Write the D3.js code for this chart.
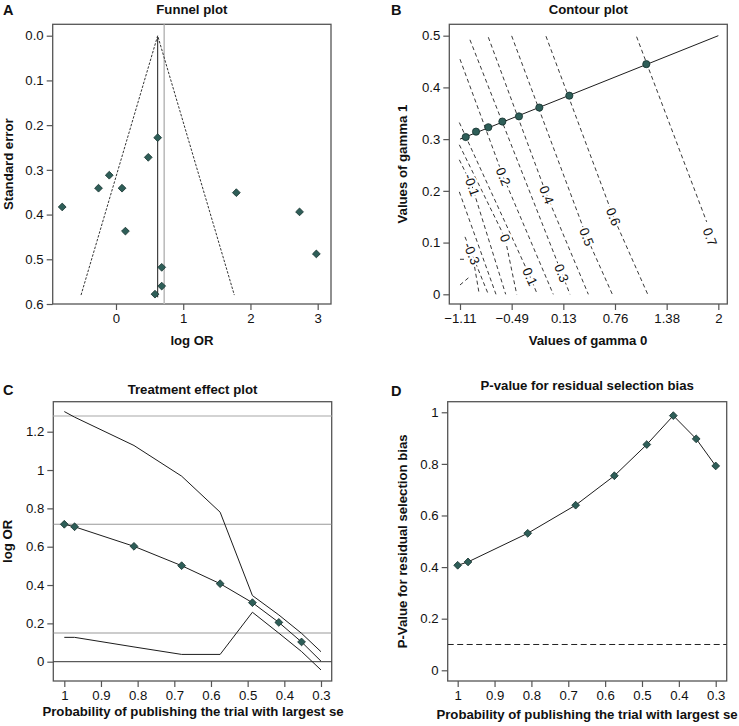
<!DOCTYPE html>
<html><head><meta charset="utf-8">
<script src="https://cdn.jsdelivr.net/npm/d3@7"></script>
<style>
body{margin:0;background:#fff}
svg text{font-family:"Liberation Sans",Arial,Helvetica,sans-serif;fill:#111}
</style></head><body>
<svg id="c" width="739" height="726"></svg>
<script>
// ---------- Data ----------
// Panel A: funnel plot
const funnelLogOR = [-0.80,-0.26,-0.10,0.09,0.14,0.48,0.62,1.79,2.73,2.98,0.68,0.68,0.58];
const funnelSE    = [0.383,0.341,0.312,0.341,0.437,0.272,0.228,0.351,0.394,0.488,0.518,0.560,0.578];
const fixedEst = 0.62, randomEst = 0.717;
const funnelEdgeX = [-0.52, 0.62, 1.76];
const funnelEdgeY = [0.58, 0.0, 0.58];
const aXTicks = [0,1,2,3];
const aYTicks = [0,0.1,0.2,0.3,0.4,0.5,0.6];

// Panel B: contour plot
const gamma0Pts = [-1.041,-0.917,-0.769,-0.60,-0.40,-0.155,0.206,1.133];
const gamma1Pts = [0.304,0.3145,0.323,0.334,0.344,0.361,0.384,0.445];
const pathG0 = [-1.11, 2];
const pathG1 = [0.30, 0.50];
const contourLevels = [0.7,0.6,0.5,0.4,0.3,0.2,0.1,0,-0.1,-0.2,-0.3,-0.4,-0.5];
const contourG0 = [
  [1.016,1.860],
  [-0.075,0.736,1.150],
  [-0.488,0.415,0.724],
  [-0.769,-0.066,0.435],
  [-0.99,0.114,0.214],
  [-1.11,-0.589,0.013],
  [-1.118,-0.267,-0.179],
  [-1.118,-0.568,-0.427],
  [-1.118,-0.969,-0.56],
  [-1.118,-0.677],
  [-1.05,-0.969,-0.769],
  [-1.11,-0.95,-0.878],
  [-1.11,-1.0]
];
const contourG1 = [
  [0.498,0.140],
  [0.499,0.150,0.0],
  [0.4996,0.111,0.0],
  [0.497,0.192,0.0],
  [0.492,0.041,0.0],
  [0.4545,0.2275,0.0],
  [0.332,0.034,0.0],
  [0.289,0.109,0.0],
  [0.26,0.2114,0.0],
  [0.198,0.0],
  [0.111,0.079,0.0],
  [0.0677,0.0677,0.0],
  [0.018,0.033]
];
const contourLabelText = ["0.7","0.6","0.5","0.4","0.3","0.2","0.1","0","-0.1",null,"-0.3",null,null];
const contourLabelG0 = [1.90,0.736,0.415,-0.066,0.114,-0.589,-0.267,-0.568,-0.969,null,-0.969,null,null];
const contourLabelG1 = [0.111,0.150,0.111,0.192,0.041,0.2275,0.034,0.109,0.2114,null,0.079,null,null];
const bXTicks = [-1.11,-0.488,0.134,0.756,1.378,2];
const bYTicks = [0,0.1,0.2,0.3,0.4,0.5];

// Panels C & D
const probPublish = [1.0,0.972,0.81,0.68,0.575,0.487,0.415,0.353,0.30];
const effectEst   = [0.717,0.704,0.602,0.501,0.407,0.308,0.205,0.103,0.003];
const effectUpper = [1.305,1.276,1.128,0.968,0.78,0.345,0.244,0.148,0.052];
const effectLower = [0.127,0.127,0.077,0.038,0.038,0.258,0.149,0.053,-0.043];
const refLinesC = [1.282,0.717,0.15];
const pResidual = [0.407,0.420,0.531,0.640,0.754,0.875,0.987,0.897,0.792];
const pThreshold = 0.1;
const probTicks = [1,0.9,0.8,0.7,0.6,0.5,0.4,0.3];
const cYTicks = [0,0.2,0.4,0.6,0.8,1,1.2];
const dYTicks = [0,0.2,0.4,0.6,0.8,1];

// ---------- Drawing ----------
const svg = d3.select("#c");
const FRAME = "#555", DARK = "#1c1c1c";
const PT_FILL = "#2e5e58", PT_STROKE = "#14302c";
const FS = 13.2;

function panel(o){
  const g = svg.append("g");
  const x = d3.scaleLinear().domain(o.xd).range([o.l,o.r]);
  const y = d3.scaleLinear().domain(o.yd).range([o.b,o.t]);
  g.append("rect").attr("x",o.l).attr("y",o.t).attr("width",o.r-o.l).attr("height",o.b-o.t)
   .attr("fill","none").attr("stroke",FRAME).attr("stroke-width",1.3);
  const xa = d3.axisBottom(x).tickValues(o.xt).tickFormat(o.xf).tickSize(6).tickPadding(3.5);
  const ya = d3.axisLeft(y).tickValues(o.yt).tickFormat(o.yf).tickSize(6).tickPadding(3);
  const gx = g.append("g").attr("transform",`translate(0,${o.b})`).call(xa);
  const gy = g.append("g").attr("transform",`translate(${o.l},0)`).call(ya);
  [gx,gy].forEach(a=>{
    a.select(".domain").remove();
    a.selectAll(".tick line").attr("stroke",FRAME).attr("stroke-width",1.2);
    a.selectAll("text").attr("font-size",FS).attr("fill","#111")
      .style("font-family",'"Liberation Sans",Arial,sans-serif');
  });
  g.append("text").attr("x",o.lx).attr("y",o.ly).attr("font-size",14.5).attr("font-weight","bold").text(o.letter);
  g.append("text").attr("x",(o.l+o.r)/2).attr("y",o.ty).attr("text-anchor","middle")
   .attr("font-size",FS).attr("font-weight","bold").text(o.title);
  g.append("text").attr("x",o.xlx).attr("y",o.xly).attr("text-anchor","middle")
   .attr("font-size",FS).attr("font-weight","bold").text(o.xlab);
  g.append("text").attr("transform",`translate(${o.ylx},${(o.t+o.b)/2}) rotate(-90)`).attr("text-anchor","middle")
   .attr("font-size",FS).attr("font-weight","bold").text(o.ylab);
  const clip = "clip"+o.letter;
  svg.append("clipPath").attr("id",clip).append("rect").attr("x",o.l).attr("y",o.t).attr("width",o.r-o.l).attr("height",o.b-o.t);
  const inner = g.append("g").attr("clip-path",`url(#${clip})`);
  return {g,inner,x,y};
}
function diamondPath(g,xs,ys,x,y){
  const s=3.9;
  g.selectAll(null).data(xs).enter().append("path")
   .attr("d",(d,i)=>{const cx=x(d),cy=y(ys[i]);return `M${cx},${cy-s}L${cx+s},${cy}L${cx},${cy+s}L${cx-s},${cy}Z`;})
   .attr("fill",PT_FILL).attr("stroke",PT_STROKE).attr("stroke-width",0.8);
}
const fmt1 = d=>d3.format(".1f")(d);
const fmtG = d=>String(+d.toFixed(2)).replace("-","\u2212");

// ----- Panel A -----
const A = panel({l:52.7,r:331,t:24.3,b:304,xd:[-0.9415,3.198],yd:[0.6,-0.0255],
  xt:aXTicks,yt:aYTicks,xf:d3.format("d"),yf:fmt1,letter:"A",lx:3,ly:15,title:"Funnel plot",ty:14,
  xlab:"log OR",xlx:192,xly:345,ylab:"Standard error",ylx:13});
A.inner.append("line").attr("x1",A.x(randomEst)).attr("x2",A.x(randomEst)).attr("y1",24.3).attr("y2",304)
  .attr("stroke","#bdbdbd").attr("stroke-width",1.6);
A.inner.append("line").attr("x1",A.x(fixedEst)).attr("x2",A.x(fixedEst)).attr("y1",A.y(0.003)).attr("y2",A.y(0.585))
  .attr("stroke",DARK).attr("stroke-width",1);
A.inner.append("path").datum(funnelEdgeX.map((v,i)=>[v,funnelEdgeY[i]]))
  .attr("d",d3.line().x(d=>A.x(d[0])).y(d=>A.y(d[1])))
  .attr("fill","none").attr("stroke","#333").attr("stroke-width",1).attr("stroke-dasharray","2.5,1.5");
diamondPath(A.inner,funnelLogOR,funnelSE,A.x,A.y);

// ----- Panel B -----
const B = panel({l:449.3,r:727.3,t:24.3,b:304,xd:[-1.2388,2.108],yd:[-0.01875,0.522],
  xt:bXTicks,yt:bYTicks,xf:fmtG,yf:d=>(d===0?"0":d3.format(".1f")(d)),letter:"B",lx:391,ly:15,title:"Contour plot",ty:14,
  xlab:"Values of gamma 0",xlx:588,xly:345,ylab:"Values of gamma 1",ylx:407});
const cl = d3.line().x(d=>B.x(d[0])).y(d=>B.y(d[1]));
contourLevels.forEach((lv,k)=>{
  const pts = contourG0[k].map((v,i)=>[v,contourG1[k][i]]);
  B.inner.append("path").datum(pts).attr("d",cl).attr("fill","none")
   .attr("stroke","#222").attr("stroke-width",0.9).attr("stroke-dasharray","4,3");
});
contourLevels.forEach((lv,k)=>{
  if(contourLabelText[k]===null) return;
  const p0 = contourG0[k], p1 = contourG1[k];
  const n=p0.length;
  const ang = Math.atan2(B.y(p1[n-1])-B.y(p1[0]), B.x(p0[n-1])-B.x(p0[0]))*180/Math.PI;
  const lx=B.x(contourLabelG0[k]), ly=B.y(contourLabelG1[k]);
  B.inner.append("text").attr("transform",`translate(${lx},${ly}) rotate(${ang})`)
   .attr("text-anchor","middle").attr("dy","0.35em").attr("font-size",FS)
   .attr("stroke","#fff").attr("stroke-width",4).attr("paint-order","stroke")
   .text(contourLabelText[k]);
});
B.inner.append("path").datum(pathG0.map((v,i)=>[v,pathG1[i]])).attr("d",cl)
  .attr("fill","none").attr("stroke",DARK).attr("stroke-width",1);
B.inner.selectAll(null).data(gamma0Pts).enter().append("circle")
  .attr("cx",d=>B.x(d)).attr("cy",(d,i)=>B.y(gamma1Pts[i])).attr("r",3.6)
  .attr("fill",PT_FILL).attr("stroke",PT_STROKE).attr("stroke-width",0.8);

// ----- Panel C -----
const C = panel({l:53.3,r:331.7,t:401.7,b:681,xd:[1.03,0.2708],yd:[-0.1007,1.3565],
  xt:probTicks,yt:cYTicks,xf:d=>String(d),yf:d=>String(d),letter:"C",lx:3,ly:395,title:"Treatment effect plot",ty:394,
  xlab:"Probability of publishing the trial with largest se",xlx:193,xly:716,ylab:"log OR",ylx:12});
[[refLinesC[0],"#c4c4c4",1.6],[refLinesC[1],"#999",1.1],[refLinesC[2],"#999",1.1],[0,"#333",1]].forEach(r=>{
  C.inner.append("line").attr("x1",53.3).attr("x2",331.7).attr("y1",C.y(r[0])).attr("y2",C.y(r[0]))
   .attr("stroke",r[1]).attr("stroke-width",r[2]);
});
const lc = d3.line().x(d=>C.x(d[0])).y(d=>C.y(d[1]));
[effectUpper,effectEst,effectLower].forEach(arr=>{
  C.inner.append("path").datum(probPublish.map((p,i)=>[p,arr[i]])).attr("d",lc)
   .attr("fill","none").attr("stroke",DARK).attr("stroke-width",1);
});
diamondPath(C.inner,probPublish.slice(0,8),effectEst.slice(0,8),C.x,C.y);

// ----- Panel D -----
const D = panel({l:447.7,r:726.7,t:401.7,b:681,xd:[1.0271,0.2702],yd:[-0.0415,1.041],
  xt:probTicks,yt:dYTicks,xf:d=>String(d),yf:d=>String(d),letter:"D",lx:391,ly:396,title:"P-value for residual selection bias",ty:390,
  xlab:"Probability of publishing the trial with largest se",xlx:587,xly:719,ylab:"P-Value for residual selection bias",ylx:407});
D.inner.append("line").attr("x1",447.7).attr("x2",726.7).attr("y1",D.y(pThreshold)).attr("y2",D.y(pThreshold))
  .attr("stroke","#222").attr("stroke-width",1).attr("stroke-dasharray","6,3.5");
D.inner.append("path").datum(probPublish.map((p,i)=>[p,pResidual[i]]))
  .attr("d",d3.line().x(d=>D.x(d[0])).y(d=>D.y(d[1])))
  .attr("fill","none").attr("stroke",DARK).attr("stroke-width",1);
diamondPath(D.inner,probPublish,pResidual,D.x,D.y);
</script>
</body></html>
